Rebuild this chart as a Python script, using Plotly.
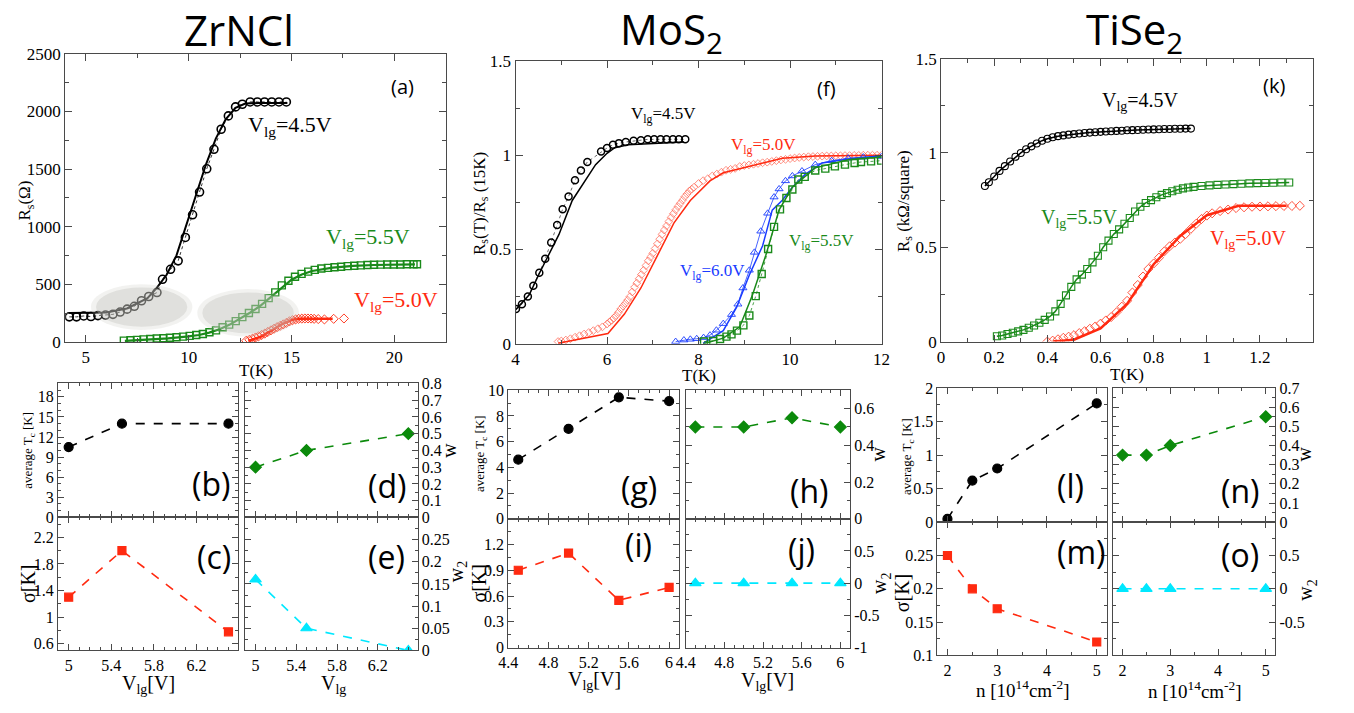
import plotly.graph_objects as go

W, H = 1354, 713

# ---------------- top panels data ----------------
# (a) ZrNCl
a45_T = [4.20, 4.55, 4.90, 5.25, 5.59, 5.96, 6.32, 6.67, 7.01, 7.36, 7.71, 8.06, 8.46, 8.73, 9.12, 9.49,
         9.84, 10.19, 10.53, 10.88, 11.23, 11.58, 11.93, 12.28, 12.61, 12.99, 13.34, 13.69, 14.04, 14.39, 14.75]
a45_R = [217, 217, 225, 220, 228, 233, 239, 259, 284, 309, 357, 394, 428, 543, 630, 703,
         906, 1103, 1300, 1502, 1671, 1845, 1961, 2039, 2062, 2082, 2082, 2082, 2082, 2082, 2082]
a45_fitT = [4.2, 5.0, 6.0, 7.0, 8.0, 8.46, 8.93, 9.41, 9.89, 10.37, 10.84, 11.32, 11.8, 12.28, 12.75, 13.39, 14.8]
a45_fitR = [250, 250, 255, 290, 380, 470, 582, 751, 1018, 1285, 1539, 1764, 1932, 2031, 2068, 2073, 2073]

a55_T = [6.85, 7.17, 7.49, 7.81, 8.13, 8.45, 8.77, 9.09, 9.41, 9.73, 10.05, 10.37, 10.69, 11.01, 11.33, 11.65,
         11.97, 12.29, 12.61, 12.93, 13.25, 13.57, 13.89, 14.21, 14.53, 14.85, 15.17, 15.49, 15.81, 16.13, 16.45,
         16.77, 17.09, 17.41, 17.73, 18.05, 18.37, 18.69, 19.01, 19.33, 19.65, 19.97, 20.29, 20.61, 20.93, 21.1]
a55_R = [11, 14, 17, 22, 25, 29, 32, 36, 40, 46, 52, 60, 68, 83, 100, 127,
         150, 180, 215, 250, 285, 330, 380, 430, 490, 530, 565, 590, 610, 625, 637,
         642, 647, 652, 657, 661, 664, 667, 669, 670, 671, 672, 672, 673, 673, 673]
a55_fitT = [6.9, 8, 9, 10, 10.5, 11, 11.5, 12, 12.5, 13, 13.5, 14, 14.5, 15, 15.5, 16, 17, 18, 19, 20, 21]
a55_fitR = [8, 18, 30, 48, 60, 80, 110, 150, 200, 255, 315, 390, 470, 540, 585, 615, 645, 660, 667, 670, 672]

a50_T = [12.8, 12.95, 13.1, 13.25, 13.4, 13.55, 13.7, 13.85, 14.0, 14.15, 14.3, 14.45, 14.6, 14.75, 14.9,
         15.05, 15.2, 15.35, 15.5, 15.65, 15.8, 15.95, 16.1, 16.3, 16.6, 17.05, 17.55]
a50_R = [10, 18, 27, 38, 48, 60, 72, 86, 100, 114, 128, 140, 152, 165, 178,
         188, 195, 200, 202, 203, 203, 202, 200, 198, 195, 200, 203]
a50_fitT = [12.9, 13.5, 14, 14.5, 15, 15.3, 16, 17]
a50_fitR = [8, 45, 95, 150, 190, 200, 200, 200]

# (f) MoS2
f45_T = [4.01, 4.14, 4.27, 4.39, 4.52, 4.65, 4.78, 4.91, 5.03, 5.16, 5.30, 5.43, 5.57, 5.87, 6.00, 6.13,
         6.26, 6.41, 6.58, 6.74, 6.89, 7.03, 7.17, 7.30, 7.44, 7.57, 7.71]
f45_R = [0.184, 0.21, 0.251, 0.308, 0.377, 0.451, 0.537, 0.630, 0.714, 0.781, 0.867, 0.919, 0.964, 1.019,
         1.038, 1.055, 1.064, 1.070, 1.076, 1.079, 1.084, 1.084, 1.084, 1.084, 1.084, 1.084, 1.084]
f45_fitT = [4.0, 4.3, 4.52, 4.75, 4.95, 5.24, 5.5, 5.75, 6.0, 6.17, 6.46, 6.96, 7.68]
f45_fitR = [0.18, 0.26, 0.373, 0.48, 0.58, 0.76, 0.86, 0.95, 1.01, 1.04, 1.055, 1.062, 1.07]

f50_T = [4.93, 5.0, 5.1, 5.2, 5.3, 5.4, 5.5, 5.6, 5.7, 5.8, 5.9, 6.0, 6.05, 6.1, 6.15, 6.2, 6.25, 6.3, 6.35,
         6.4, 6.45, 6.5, 6.55, 6.6, 6.65, 6.7, 6.75, 6.8, 6.85, 6.9, 6.95, 7.0, 7.05, 7.1, 7.15, 7.2,
         7.25, 7.3, 7.35, 7.4, 7.45, 7.5, 7.55, 7.6, 7.65, 7.7, 7.75, 7.8, 7.85, 7.9, 8.0, 8.1, 8.2, 8.3,
         8.4, 8.5, 8.6, 8.7, 8.8, 8.9, 9.0, 9.1, 9.2, 9.3, 9.4, 9.5, 9.6, 9.7, 9.8, 9.9, 10.0, 10.1,
         10.2, 10.3, 10.4, 10.5, 10.6, 10.7, 10.8, 10.9, 11.0, 11.1, 11.2, 11.3, 11.4, 11.5, 11.6, 11.7,
         11.8, 11.9, 12.0]
f50_R = [0.012, 0.015, 0.02, 0.027, 0.035, 0.043, 0.052, 0.06, 0.07, 0.08, 0.09, 0.105, 0.115, 0.125,
         0.137, 0.15, 0.167, 0.185, 0.2, 0.215, 0.232, 0.25, 0.275, 0.30, 0.322, 0.345, 0.367, 0.39,
         0.415, 0.44, 0.46, 0.48, 0.505, 0.53, 0.555, 0.58, 0.603, 0.625, 0.648, 0.67, 0.69, 0.71,
         0.728, 0.745, 0.762, 0.78, 0.795, 0.81, 0.82, 0.83, 0.85, 0.865, 0.875, 0.89, 0.90, 0.91,
         0.92, 0.925, 0.93, 0.94, 0.945, 0.948, 0.952, 0.956, 0.96, 0.963, 0.967, 0.971, 0.975, 0.978,
         0.982, 0.985, 0.988, 0.99, 0.992, 0.993, 0.994, 0.995, 0.996, 0.996, 0.997, 0.997, 0.998, 0.998,
         0.999, 0.999, 1.0, 1.0, 1.0, 1.0, 1.0]
f50_fitT = [4.93, 5.5, 6.02, 6.38, 6.74, 7.1, 7.46, 7.82, 8.25, 8.54, 9.11, 9.83, 10.55, 12.0]
f50_fitR = [0.003, 0.03, 0.055, 0.158, 0.296, 0.468, 0.64, 0.76, 0.864, 0.907, 0.94, 0.984, 0.996, 1.0]

f60_T = [7.5, 7.68, 7.82, 7.96, 8.11, 8.25, 8.39, 8.54, 8.72, 8.86, 8.97, 9.11, 9.22, 9.36, 9.51, 9.65,
         9.76, 9.9, 10.05, 10.26, 10.55, 10.91, 11.27, 11.6, 12.0]
f60_R = [0.012, 0.02, 0.024, 0.027, 0.033, 0.046, 0.072, 0.107, 0.155, 0.21, 0.296, 0.39, 0.485, 0.597,
         0.692, 0.778, 0.821, 0.864, 0.89, 0.916, 0.95, 0.971, 0.984, 0.99, 0.993]
f60_fitT = [8.1, 8.54, 8.83, 9.11, 9.4, 9.61, 9.83, 10.05, 10.33, 10.7, 11.27, 12.0]
f60_fitR = [0.003, 0.07, 0.193, 0.365, 0.52, 0.709, 0.761, 0.83, 0.898, 0.959, 0.98, 0.997]

f55_T = [8.12, 8.32, 8.47, 8.61, 8.72, 8.84, 8.98, 9.11, 9.25, 9.38, 9.52, 9.65, 9.78, 9.92, 10.05,
         10.18, 10.32, 10.55, 10.77, 10.98, 11.2, 11.41, 11.55, 11.77, 11.99]
f55_R = [0.012, 0.015, 0.026, 0.038, 0.05, 0.07, 0.098, 0.15, 0.253, 0.37, 0.503, 0.62, 0.713, 0.773,
         0.818, 0.871, 0.885, 0.919, 0.929, 0.941, 0.95, 0.959, 0.964, 0.967, 0.971]
f55_fitT = [8.1, 8.54, 8.9, 9.18, 9.47, 9.76, 10.05, 10.55, 11.27, 12.0]
f55_fitR = [0.0, 0.03, 0.09, 0.26, 0.47, 0.71, 0.83, 0.933, 0.976, 0.99]

# (k) TiSe2
k45_T = [0.165, 0.18, 0.2, 0.22, 0.24, 0.26, 0.28, 0.3, 0.32, 0.34, 0.36, 0.38, 0.4, 0.42, 0.44, 0.46,
         0.48, 0.5, 0.52, 0.54, 0.56, 0.58, 0.6, 0.62, 0.64, 0.66, 0.68, 0.7, 0.72, 0.74, 0.76, 0.78,
         0.8, 0.82, 0.84, 0.86, 0.88, 0.9, 0.92, 0.94]
k45_R = [0.825, 0.845, 0.875, 0.905, 0.93, 0.955, 0.98, 1.0, 1.02, 1.035, 1.05, 1.065, 1.075, 1.083,
         1.089, 1.093, 1.097, 1.100, 1.103, 1.106, 1.108, 1.110, 1.112, 1.114, 1.115, 1.117, 1.118,
         1.120, 1.121, 1.122, 1.123, 1.124, 1.125, 1.126, 1.127, 1.127, 1.128, 1.128, 1.129, 1.129]

k55_T = [0.21, 0.23, 0.25, 0.27, 0.29, 0.31, 0.33, 0.35, 0.37, 0.39, 0.41, 0.43, 0.45, 0.47, 0.49, 0.51,
         0.53, 0.55, 0.57, 0.59, 0.61, 0.63, 0.65, 0.67, 0.69, 0.71, 0.73, 0.75, 0.77, 0.79, 0.81, 0.83,
         0.85, 0.87, 0.89, 0.91, 0.93, 0.95, 0.98, 1.01, 1.04, 1.07, 1.1, 1.13, 1.16, 1.19, 1.22, 1.25,
         1.28, 1.31]
k55_R = [0.028, 0.032, 0.04, 0.047, 0.054, 0.062, 0.073, 0.085, 0.10, 0.115, 0.133, 0.16, 0.20, 0.245,
         0.29, 0.33, 0.355, 0.385, 0.42, 0.455, 0.50, 0.535, 0.57, 0.595, 0.625, 0.655, 0.69, 0.715,
         0.735, 0.75, 0.765, 0.778, 0.787, 0.797, 0.805, 0.812, 0.817, 0.82, 0.825, 0.828, 0.831, 0.833,
         0.835, 0.837, 0.839, 0.84, 0.841, 0.842, 0.843, 0.843]

k50_T = [0.40, 0.42, 0.44, 0.46, 0.48, 0.5, 0.52, 0.54, 0.56, 0.58, 0.6, 0.62, 0.64, 0.66, 0.68, 0.7,
         0.72, 0.74, 0.76, 0.78, 0.8, 0.82, 0.84, 0.86, 0.88, 0.9, 0.92, 0.94, 0.96, 0.98, 1.0, 1.02,
         1.05, 1.08, 1.11, 1.14, 1.17, 1.2, 1.23, 1.26, 1.29, 1.32, 1.35]
k50_R = [0.0, 0.005, 0.012, 0.02, 0.026, 0.034, 0.045, 0.055, 0.068, 0.08, 0.095, 0.112, 0.13, 0.155,
         0.185, 0.216, 0.26, 0.30, 0.345, 0.385, 0.414, 0.445, 0.478, 0.505, 0.525, 0.545, 0.57, 0.598,
         0.625, 0.65, 0.668, 0.68, 0.692, 0.70, 0.708, 0.712, 0.715, 0.716, 0.717, 0.718, 0.719, 0.719, 0.72]
k50_fitT = [0.42, 0.5, 0.6, 0.7, 0.8, 0.9, 1.0, 1.12, 1.3]
k50_fitR = [0.0, 0.01, 0.07, 0.2, 0.41, 0.56, 0.67, 0.72, 0.72]

# ---------------- bottom panels data ----------------
zr_V = [5.0, 5.5, 6.5]
zr_Tc = [10.5, 14.0, 14.0]
zr_sigma = [1.3, 2.0, 0.78]
zr_w = [0.3, 0.4, 0.5]
zr_w2 = [0.16, 0.05, 0.0]

mo_V = [4.5, 5.0, 5.5, 6.0]
mo_Tc = [4.6, 7.0, 9.45, 9.15]
mo_sigma = [0.9, 1.1, 0.55, 0.7]
mo_w = [0.5, 0.5, 0.55, 0.5]
mo_w2 = [0.0, 0.0, 0.0, 0.0]

ti_n = [2.0, 2.5, 3.0, 5.0]
ti_Tc = [0.05, 0.62, 0.8, 1.77]
ti_sigma = [0.25, 0.2, 0.17, 0.12]
ti_w = [0.35, 0.35, 0.4, 0.55]
ti_w2 = [0.0, 0.0, 0.0, 0.0]

# ---------------- colours ----------------
BLACK = "#000000"
GREEN = "#1a8a1a"
RED = "#ff2a10"
BLUE = "#1a3cff"
CYAN = "#00e8ff"
DGREEN = "#0b8a0b"
AXC = "#4a4a4a"
SERIF = "Liberation Serif"
SANS = "Open Sans"

fig = go.Figure()


def fmt(v):
    s = ("%.3f" % v).rstrip("0").rstrip(".")
    if s == "-0":
        s = "0"
    return s


def frange(a, b, s):
    out = []
    k = 0
    while a + k * s <= b + 1e-9:
        out.append(round(a + k * s, 6))
        k += 1
    return out


def set_axes(i, xpx, ypx, xr, yr, xt, yt, xminor, yminor, xlab=True, yside="left",
             xtick0=None, ytick0=None, tl=6, mtl=3, fs=16):
    xa = "xaxis" if i == 1 else "xaxis%d" % i
    ya = "yaxis" if i == 1 else "yaxis%d" % i
    xn = "x" if i == 1 else "x%d" % i
    yn = "y" if i == 1 else "y%d" % i
    common = dict(showline=True, linecolor=AXC, linewidth=1, mirror="ticks", ticks="inside",
                  tickcolor=AXC, ticklen=tl, tickwidth=1, showgrid=False, zeroline=False,
                  tickfont=dict(family=SERIF, size=fs, color="black"), fixedrange=True)
    fig.layout[xa] = dict(common, domain=[xpx[0] / W, xpx[1] / W], anchor=yn, range=xr,
                          tickmode="array", tickvals=xt, ticktext=[fmt(v) for v in xt],
                          showticklabels=xlab,
                          minor=dict(dtick=xminor, tick0=xtick0 if xtick0 is not None else xt[0],
                                     ticks="inside", ticklen=mtl, tickcolor=AXC, showgrid=False))
    fig.layout[ya] = dict(common, domain=[1 - ypx[1] / H, 1 - ypx[0] / H], anchor=xn, range=yr,
                          side=yside, tickmode="array", tickvals=yt,
                          ticktext=[fmt(v) for v in yt],
                          minor=dict(dtick=yminor, tick0=ytick0 if ytick0 is not None else yt[0],
                                     ticks="inside", ticklen=mtl, tickcolor=AXC, showgrid=False))
    return xn, yn


def add(xn, yn, x, y, mode, color, symbol=None, size=6, dash="solid", lw=1.2, mlw=1.2, opacity=1.0):
    kw = dict(x=x, y=y, mode=mode, xaxis=xn, yaxis=yn, showlegend=False, hoverinfo="skip",
              opacity=opacity)
    if "lines" in mode:
        kw["line"] = dict(color=color, width=lw, dash=dash)
    if "markers" in mode:
        kw["marker"] = dict(symbol=symbol, size=size, color=color, line=dict(color=color, width=mlw))
    fig.add_trace(go.Scatter(**kw))


# ---------------- top panels ----------------
xa, ya = set_axes(1, (56, 442), (46, 342), [4, 22.5], [0, 2500], [5, 10, 15, 20], frange(0, 2500, 500),
                  2.5, 250, xtick0=0, ytick0=0, tl=7, mtl=4, fs=17)
add(xa, ya, a45_fitT, a45_fitR, "lines", BLACK, lw=2)
add(xa, ya, a45_T, a45_R, "lines+markers", BLACK, "circle-open", size=8, dash="dot", lw=0.8, mlw=1.6)
add(xa, ya, a55_fitT, a55_fitR, "lines", GREEN, lw=2.2)
add(xa, ya, a55_T, a55_R, "markers", GREEN, "square-open", size=7, mlw=1.4)
add(xa, ya, a50_fitT, a50_fitR, "lines", RED, lw=2.5)
add(xa, ya, a50_T, a50_R, "markers", RED, "diamond-open", size=7, mlw=0.9)

xf, yf = set_axes(2, (512.7, 884), (53.3, 344), [4, 12], [0, 1.5], [4, 6, 8, 10, 12], [0, 0.5, 1, 1.5],
                  1, 0.25, tl=7, mtl=4, fs=17)
add(xf, yf, f50_T, f50_R, "markers", RED, "diamond-open", size=6, mlw=0.7, opacity=0.75)
add(xf, yf, f50_fitT, f50_fitR, "lines", RED, lw=1.5)
add(xf, yf, f45_fitT, f45_fitR, "lines", BLACK, lw=1.5)
add(xf, yf, f45_T, f45_R, "lines+markers", BLACK, "circle-open", size=7, dash="dot", lw=0.6, mlw=1.5)
add(xf, yf, f60_T, f60_R, "lines+markers", BLUE, "triangle-up-open", size=7, lw=0.8, mlw=0.9)
add(xf, yf, f60_fitT, f60_fitR, "lines", BLUE, lw=1.5)
add(xf, yf, f55_T, f55_R, "lines+markers", GREEN, "square-open", size=7, dash="dot", lw=0.8, mlw=1.4)
add(xf, yf, f55_fitT, f55_fitR, "lines", GREEN, lw=1.5)

xk, yk = set_axes(3, (944.3, 1321.7), (51, 341.7), [0, 1.4], [0, 1.5], frange(0, 1.2, 0.2), [0, 0.5, 1, 1.5],
                  0.1, 0.25, tl=7, mtl=4, fs=17)
add(xk, yk, k45_T, k45_R, "lines+markers", BLACK, "circle-open", size=7, lw=1.5, mlw=1.1)
add(xk, yk, k55_T, k55_R, "lines+markers", GREEN, "square-open", size=7, lw=1.5, mlw=1.1)
add(xk, yk, k50_T, k50_R, "markers", RED, "diamond-open", size=7, mlw=0.8)
add(xk, yk, k50_fitT, k50_fitR, "lines", RED, lw=2.5)

# ---------------- bottom panels ----------------
# ZrNCl
xb, yb = set_axes(4, (48.7, 231.3), (384.7, 522.3), [4.9, 6.59], [0, 20], [5, 5.4, 5.8, 6.2],
                  frange(0, 18, 3), 0.1, 1, xlab=False, xtick0=5, ytick0=0)
add(xb, yb, zr_V, zr_Tc, "lines+markers", BLACK, "circle", size=9, dash="dash", lw=1.6)
xc, yc = set_axes(5, (48.7, 231.3), (522.3, 659), [4.9, 6.59], [0.5, 2.5], [5, 5.4, 5.8, 6.2],
                  [0.6, 1, 1.4, 1.8, 2.2], 0.1, 0.2, xtick0=5, ytick0=0.6)
add(xc, yc, zr_V, zr_sigma, "lines+markers", RED, "square", size=8, dash="dash", lw=1.6)
xd, yd = set_axes(6, (238.7, 413.3), (384.7, 522.3), [4.9, 6.59], [0, 0.8], [5, 5.4, 5.8, 6.2],
                  frange(0, 0.8, 0.1), 0.1, 0.05, xlab=False, yside="right", xtick0=5, ytick0=0)
add(xd, yd, zr_V, zr_w, "lines+markers", DGREEN, "diamond", size=9, dash="dash", lw=1.6)
xe, ye = set_axes(7, (238.7, 413.3), (522.3, 659), [4.9, 6.59], [0, 0.3], [5, 5.4, 5.8, 6.2],
                  frange(0, 0.25, 0.05), 0.1, 0.025, yside="right", xtick0=5, ytick0=0)
add(xe, ye, zr_V, zr_w2, "lines+markers", CYAN, "triangle-up", size=10, dash="dash", lw=1.6)

# MoS2
xg, yg = set_axes(8, (505.3, 678.7), (391.7, 523.7), [4.4, 6.1], [0, 10], [4.4, 4.8, 5.2, 5.6, 6.0],
                  frange(0, 10, 2), 0.1, 1, xlab=False, xtick0=4.4, ytick0=0)
add(xg, yg, mo_V, mo_Tc, "lines+markers", BLACK, "circle", size=9, dash="dash", lw=1.6)
xi, yi = set_axes(9, (505.3, 678.7), (523.7, 656), [4.4, 6.1], [0, 1.5], [4.4, 4.8, 5.2, 5.6, 6.0],
                  [0, 0.3, 0.6, 0.9, 1.2], 0.1, 0.15, xtick0=4.4, ytick0=0)
add(xi, yi, mo_V, mo_sigma, "lines+markers", RED, "square", size=8, dash="dash", lw=1.6)
xh, yh = set_axes(10, (685.3, 852), (391.7, 523.7), [4.4, 6.1], [0, 0.7], [4.4, 4.8, 5.2, 5.6, 6.0],
                  [0, 0.2, 0.4, 0.6], 0.1, 0.1, xlab=False, yside="right", xtick0=4.4, ytick0=0)
add(xh, yh, mo_V, mo_w, "lines+markers", DGREEN, "diamond", size=9, dash="dash", lw=1.6)
xj, yj = set_axes(11, (685.3, 852), (523.7, 656), [4.4, 6.1], [-1, 1], [4.4, 4.8, 5.2, 5.6, 6.0],
                  [-1, -0.5, 0, 0.5], 0.1, 0.25, yside="right", xtick0=4.4, ytick0=-1)
add(xj, yj, mo_V, mo_w2, "lines+markers", CYAN, "triangle-up", size=10, dash="dash", lw=1.6)

# TiSe2
xl, yl = set_axes(12, (940.7, 1112.3), (389.3, 527.3), [1.8, 5.2], [0, 2], [2, 3, 4, 5],
                  [0, 0.5, 1, 1.5, 2], 0.5, 0.25, xlab=False, xtick0=2, ytick0=0)
add(xl, yl, ti_n, ti_Tc, "lines+markers", BLACK, "circle", size=9, dash="dash", lw=1.6)
xm, ym = set_axes(13, (940.7, 1112.3), (527.3, 664), [1.8, 5.2], [0.1, 0.3], [2, 3, 4, 5],
                  [0.1, 0.15, 0.2, 0.25], 0.5, 0.025, xtick0=2, ytick0=0.1)
add(xm, ym, ti_n, ti_sigma, "lines+markers", RED, "square", size=8, dash="dash", lw=1.6)
xn_, yn_ = set_axes(14, (1118.7, 1283.3), (389.3, 527.3), [1.8, 5.2], [0, 0.7], [2, 3, 4, 5],
                    frange(0, 0.7, 0.1), 0.5, 0.05, xlab=False, yside="right", xtick0=2, ytick0=0)
add(xn_, yn_, ti_n, ti_w, "lines+markers", DGREEN, "diamond", size=9, dash="dash", lw=1.6)
xo, yo = set_axes(15, (1118.7, 1283.3), (527.3, 664), [1.8, 5.2], [-1, 1], [2, 3, 4, 5],
                  [-0.5, 0, 0.5], 0.5, 0.25, yside="right", xtick0=2, ytick0=-1)
add(xo, yo, ti_n, ti_w2, "lines+markers", CYAN, "triangle-up", size=10, dash="dash", lw=1.6)

# ---------------- grey ellipses in (a) ----------------
shapes = []
for (x0, x1, y0, y1) in [(5.25, 10.18, 104, 500), (10.42, 15.36, 45, 458)]:
    shapes.append(dict(type="circle", xref="x", yref="y", x0=x0, x1=x1, y0=y0, y1=y1,
                       fillcolor="#c2c2bc", opacity=0.22, line=dict(width=0), layer="above"))
    dx = (x1 - x0) * 0.05
    dy = (y1 - y0) * 0.07
    shapes.append(dict(type="circle", xref="x", yref="y", x0=x0 + dx, x1=x1 - dx, y0=y0 + dy, y1=y1 - dy,
                       fillcolor="#c2c2bc", opacity=0.38, line=dict(width=0), layer="above"))

# ---------------- annotations ----------------
ann = []


def text(t, px, py, size, color="black", family=SERIF, angle=0, xanchor="center", yanchor="middle"):
    ann.append(dict(text=t, x=px / W, y=1 - py / H, xref="paper", yref="paper", showarrow=False,
                    font=dict(family=family, size=size, color=color), textangle=angle,
                    xanchor=xanchor, yanchor=yanchor))


# titles
text("ZrNCl", 232, 21, 42, family=SANS)
text("MoS<sub>2</sub>", 671, 23, 42, family=SANS)
text("TiSe<sub>2</sub>", 1140, 23, 42, family=SANS)

# panel letters (top)
text("(a)", 398, 80, 20, family=SANS)
text("(f)", 828, 82, 20, family=SANS)
text("(k)", 1282, 79, 20, family=SANS)
# bottom letters
for t, px, py in [("(b)", 204, 488), ("(c)", 207, 562), ("(d)", 382, 490), ("(e)", 382, 562),
                  ("(g)", 638, 492), ("(h)", 811, 495), ("(i)", 637, 550), ("(j)", 803, 555),
                  ("(l)", 1076, 490), ("(n)", 1248, 495), ("(m)", 1087, 557), ("(o)", 1248, 560)]:
    text(t, px, py, 32, family=SANS)

# curve labels
text("V<sub>lg</sub>=4.5V", 284, 120, 22, BLACK)
text("V<sub>lg</sub>=5.5V", 363, 235, 22, GREEN)
text("V<sub>lg</sub>=5.0V", 392, 300, 22, RED)
text("V<sub>lg</sub>=4.5V", 663, 109, 17, BLACK)
text("V<sub>lg</sub>=5.0V", 764, 141, 17, RED)
text("V<sub>lg</sub>=6.0V", 713, 270, 17, BLUE)
text("V<sub>lg</sub>=5.5V", 823, 239, 17, GREEN)
text("V<sub>lg</sub>=4.5V", 1147, 95, 20, BLACK)
text("V<sub>lg</sub>=5.5V", 1085, 215, 20, GREEN)
text("V<sub>lg</sub>=5.0V", 1256, 237, 20, RED)

# top axis titles
text("R<sub>s</sub>(Ω)", 16, 197, 17, angle=-90)
text("T(K)", 249, 371, 17)
text("R<sub>s</sub>(T)/R<sub>s</sub> (15K)", 477, 200, 17, angle=-90)
text("T(K)", 699, 377, 17)
text("R<sub>s</sub> (kΩ/square)", 907, 197, 17, angle=-90)
text("T(K)", 1133, 375, 17)

# bottom axis titles
text("average T<sub>c</sub> [K]", 19, 453, 13, angle=-90)
text("σ[K]", 19, 590, 20, angle=-90)
text("V<sub>lg</sub>[V]", 140, 694, 20)
text("w", 445, 453, 20, angle=-90)
text("w<sub>2</sub>", 454, 578, 20, angle=-90)
text("V<sub>lg</sub>", 328, 694, 20)

text("average T<sub>c</sub> [K]", 478, 457, 13, angle=-90)
text("σ[K]", 476, 590, 20, angle=-90)
text("V<sub>lg</sub>[V]", 593, 690, 20)
text("w", 880, 457, 20, angle=-90)
text("w<sub>2</sub>", 883, 590, 20, angle=-90)
text("V<sub>lg</sub>[V]", 768, 691, 20)

text("average T<sub>c</sub> [K]", 911, 460, 13, angle=-90)
text("σ[K]", 905, 600, 20, angle=-90)
text("n [10<sup>14</sup>cm<sup>-2</sup>]", 1027, 699, 19)
text("w", 1312, 457, 20, angle=-90)
text("w<sub>2</sub>", 1315, 597, 20, angle=-90)
text("n [10<sup>14</sup>cm<sup>-2</sup>]", 1202, 700, 19)

fig.update_layout(width=W, height=H, autosize=False, margin=dict(l=0, r=0, t=0, b=0),
                  paper_bgcolor="white", plot_bgcolor="white", shapes=shapes, annotations=ann)

fig.write_html("out.html", config={"displayModeBar": False},
               post_script="document.body.style.margin='0';document.body.style.overflow='hidden';")
